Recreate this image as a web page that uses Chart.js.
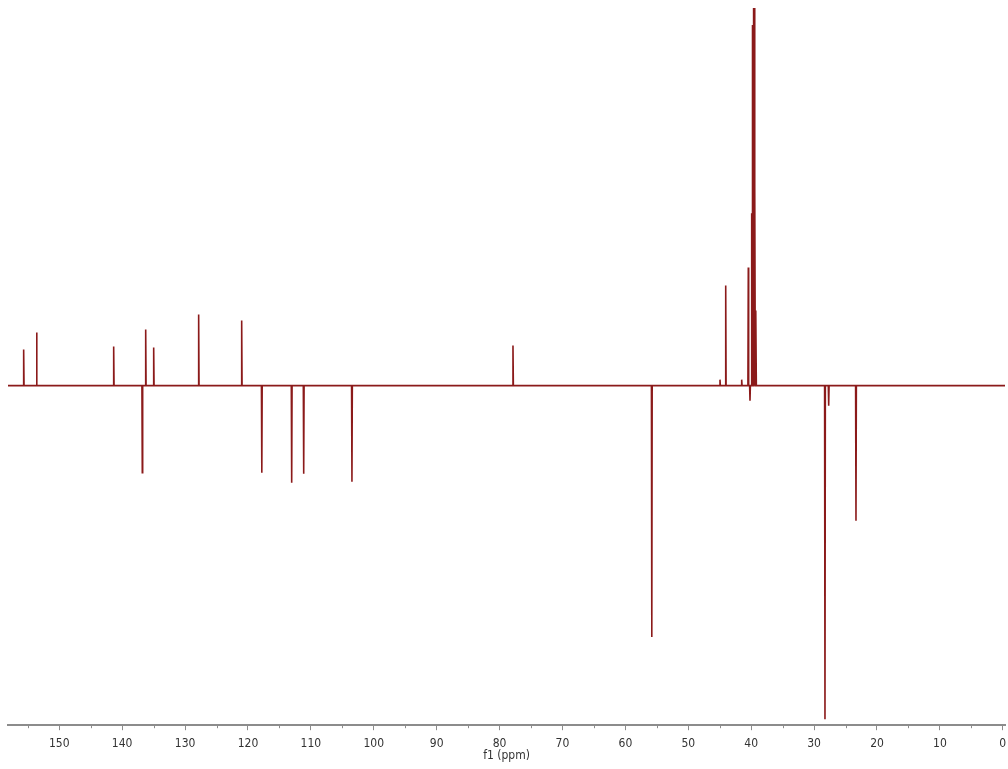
<!DOCTYPE html>
<html>
<head>
<meta charset="utf-8">
<script src="https://cdn.jsdelivr.net/npm/chart.js@4"></script>
<style>
  html, body { margin: 0; padding: 0; background: #fff; }
  #wrap { width: 1008px; height: 769px; }
</style>
</head>
<body>
<div id="wrap"><canvas id="spec"></canvas></div>
<script>
// Spectrum range (ppm), axis runs right-to-left
var ppmMax = 158.15;
var ppmMin = -0.35;

// Peak positions (ppm) and intensities (arbitrary units, baseline = 0)
var peakPpm = [
    155.66, 153.6, 141.35, 136.8, 136.26, 134.99, 127.84, 121.0,
    117.8, 113.05, 111.14, 103.47, 77.87, 55.8,
    44.96, 44.05, 41.51, 40.46, 40.19, 39.92, 39.76, 39.63, 39.51, 39.40, 39.24,
    28.27, 27.68, 23.34
];
var peakHeight = [
    36, 53, 39, -87, 56, 38, 71, 65,
    -87, -97, -88, -96, 40, -251,
    6, 100, 6, 118, -15, 172, 360, 377, 377, 200, 75,
    -333, -20, -135
];

// Axis ticks
var majorTicks = [150, 140, 130, 120, 110, 100, 90, 80, 70, 60, 50, 40, 30, 20, 10, 0];
var minorTicks = [155, 145, 135, 125, 115, 105, 95, 85, 75, 65, 55, 45, 35, 25, 15, 5];

// Build the trace: baseline with each peak as a narrow stick
var halfWidth = 0.06;
var order = peakPpm.map(function(p, i) { return i; });
order.sort(function(a, b) { return peakPpm[b] - peakPpm[a]; });

var trace = [{ x: ppmMax, y: 0 }];
order.forEach(function(i) {
    trace.push({ x: peakPpm[i] + halfWidth, y: 0 });
    trace.push({ x: peakPpm[i], y: peakHeight[i] });
    trace.push({ x: peakPpm[i] - halfWidth, y: 0 });
});
trace.push({ x: ppmMin, y: 0 });

// Short minor tick marks under the axis line
var minorTickPlugin = {
    id: 'minorTicks',
    afterDraw: function(chart) {
        var sx = chart.scales.x;
        var c = chart.ctx;
        c.save();
        c.strokeStyle = '#8c8c8c';
        c.lineWidth = 1;
        minorTicks.forEach(function(v) {
            var px = Math.round(sx.getPixelForValue(v)) + 0.5;
            c.beginPath();
            c.moveTo(px, sx.top);
            c.lineTo(px, sx.top + 3);
            c.stroke();
        });
        c.restore();
    }
};

var labelFont = "'DejaVu Sans Condensed', 'DejaVu Sans', sans-serif";

new Chart(document.getElementById('spec'), {
    type: 'line',
    data: {
        datasets: [{
            data: trace,
            borderColor: '#8b1a1a',
            borderWidth: 1.6,
            pointRadius: 0,
            fill: false,
            tension: 0
        }]
    },
    options: {
        responsive: true,
        maintainAspectRatio: false,
        animation: false,
        layout: { padding: { left: 8, right: 3, top: 0, bottom: 2 } },
        plugins: {
            legend: { display: false },
            tooltip: { enabled: false }
        },
        scales: {
            x: {
                type: 'linear',
                reverse: true,
                min: ppmMin,
                max: ppmMax,
                afterBuildTicks: function(axis) {
                    axis.ticks = majorTicks.map(function(v) { return { value: v }; });
                },
                afterFit: function(axis) {
                    axis.paddingLeft = 0;
                    axis.paddingRight = 0;
                },
                ticks: {
                    autoSkip: false,
                    maxRotation: 0,
                    padding: 6,
                    color: '#333',
                    font: { family: labelFont, size: 12 },
                    callback: function(value) { return String(value); }
                },
                grid: {
                    drawOnChartArea: false,
                    drawTicks: true,
                    tickLength: 5,
                    color: '#8c8c8c'
                },
                border: { display: true, color: '#8c8c8c', width: 2 },
                title: {
                    display: true,
                    text: 'f1 (ppm)',
                    color: '#333',
                    padding: { top: -8, bottom: 4 },
                    font: { family: labelFont, size: 12 }
                }
            },
            y: {
                display: false,
                min: -339,
                max: 385
            }
        }
    },
    plugins: [minorTickPlugin]
});
</script>
</body>
</html>
